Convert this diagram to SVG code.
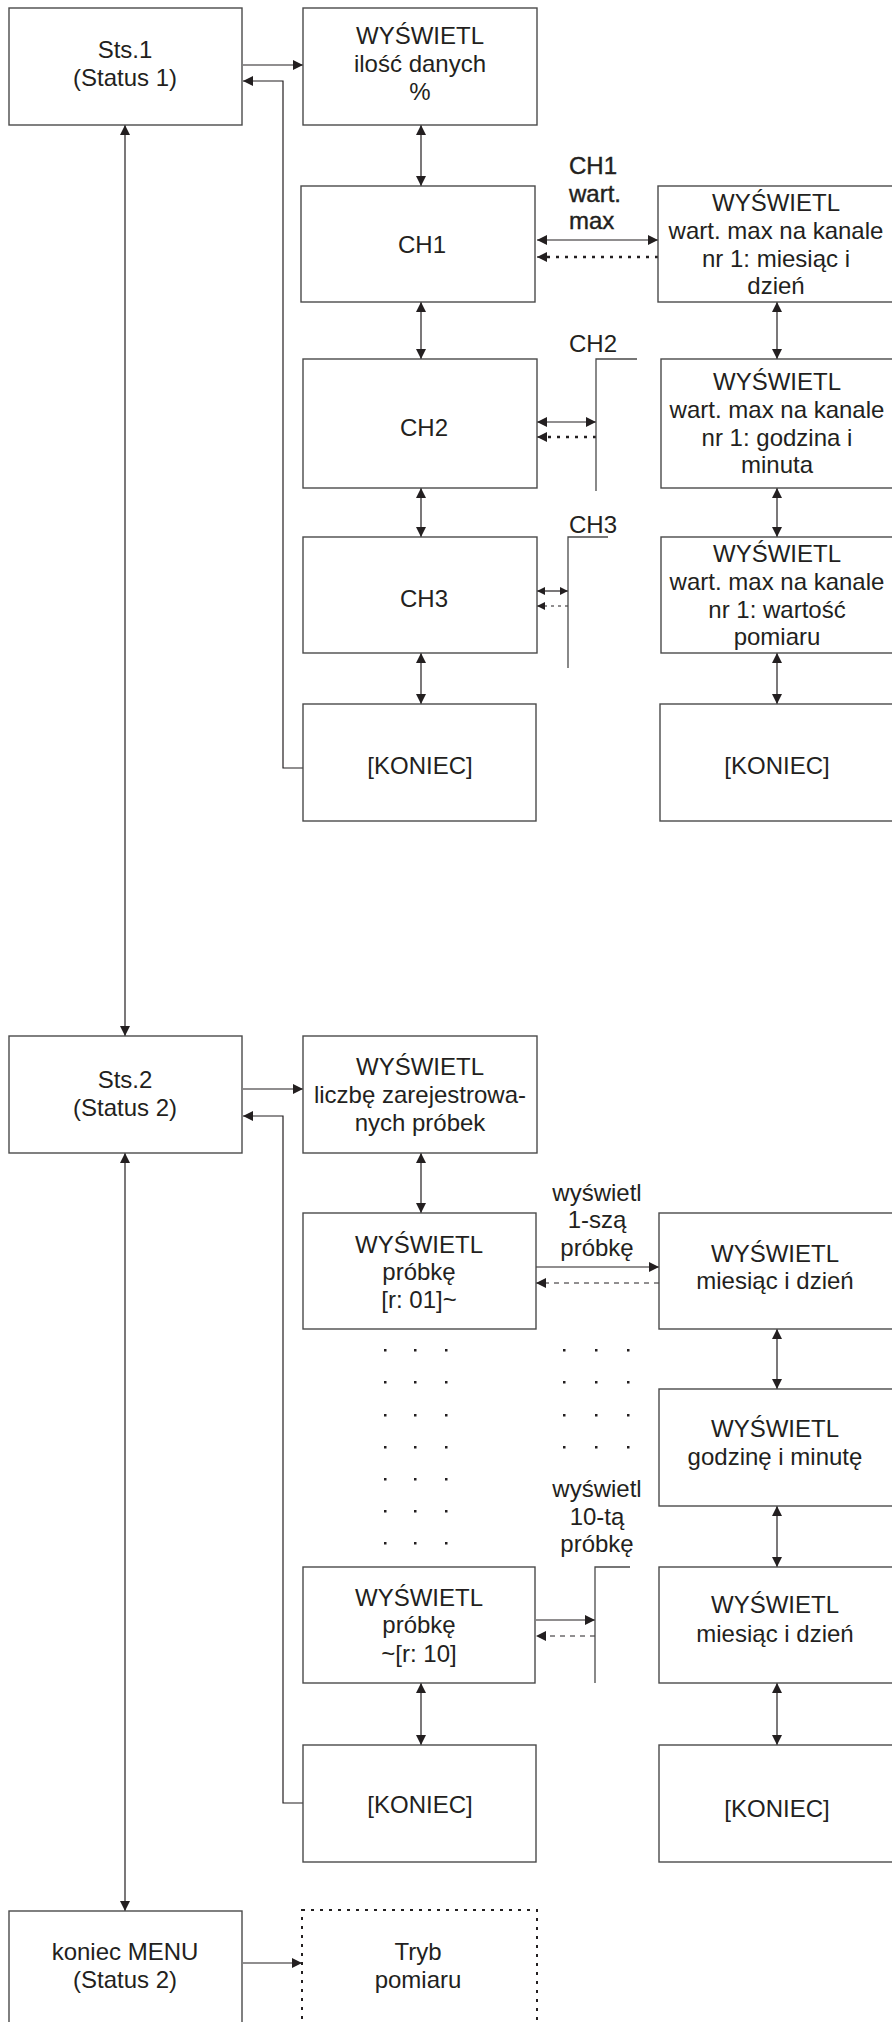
<svg xmlns="http://www.w3.org/2000/svg" width="892" height="2022" viewBox="0 0 892 2022">
<defs>
<marker id="ah" markerUnits="userSpaceOnUse" markerWidth="10" markerHeight="10" refX="10" refY="5" orient="auto-start-reverse"><path d="M0,0 L10,5 L0,10 z" fill="#231f20"/></marker>
<marker id="ahs" markerUnits="userSpaceOnUse" markerWidth="8" markerHeight="8" refX="8" refY="4" orient="auto-start-reverse"><path d="M0,0 L8,4 L0,8 z" fill="#231f20"/></marker>
</defs>
<style>
.box{fill:#fff;stroke:#4a4a4a;stroke-width:1.4}
.dotbox{fill:#fff;stroke:#231f20;stroke-width:2;stroke-dasharray:3 6}
.c{fill:none;stroke:#231f20;stroke-width:1.2}
.br{fill:none;stroke:#4a4a4a;stroke-width:1.3}
.dot{fill:none;stroke:#231f20;stroke-width:2.5;stroke-dasharray:3 6}
.dot2{fill:none;stroke:#231f20;stroke-width:1;stroke-dasharray:3 4}
.dash{fill:none;stroke:#231f20;stroke-width:1;stroke-dasharray:5 5}
text{font-family:"Liberation Sans",Arial,sans-serif;font-size:24px;fill:#231f20;text-anchor:middle}
.lab{text-anchor:start}
.bold{stroke:#231f20;stroke-width:0.4}
.d{fill:#231f20}
</style>

<g id="connectors">
<line class="c" x1="125" y1="125" x2="125" y2="1036" marker-start="url(#ah)" marker-end="url(#ah)"/>
<line class="c" x1="125" y1="1153" x2="125" y2="1911" marker-start="url(#ah)" marker-end="url(#ah)"/>
<line class="c" x1="243" y1="65" x2="303" y2="65" marker-end="url(#ah)"/>
<polyline class="c" points="303,768 283,768 283,81 243,81" marker-end="url(#ah)"/>
<line class="c" x1="243" y1="1089" x2="303" y2="1089" marker-end="url(#ah)"/>
<polyline class="c" points="303,1803 283,1803 283,1116 243,1116" marker-end="url(#ah)"/>
<line class="c" x1="243" y1="1963" x2="302" y2="1963" marker-end="url(#ah)"/>

<line class="c" x1="421" y1="125" x2="421" y2="186" marker-start="url(#ah)" marker-end="url(#ah)"/>
<line class="c" x1="421" y1="302" x2="421" y2="359" marker-start="url(#ah)" marker-end="url(#ah)"/>
<line class="c" x1="421" y1="488" x2="421" y2="537" marker-start="url(#ah)" marker-end="url(#ah)"/>
<line class="c" x1="421" y1="653" x2="421" y2="704" marker-start="url(#ah)" marker-end="url(#ah)"/>
<line class="c" x1="777" y1="302" x2="777" y2="359" marker-start="url(#ah)" marker-end="url(#ah)"/>
<line class="c" x1="777" y1="488" x2="777" y2="537" marker-start="url(#ah)" marker-end="url(#ah)"/>
<line class="c" x1="777" y1="653" x2="777" y2="704" marker-start="url(#ah)" marker-end="url(#ah)"/>

<line class="c" x1="421" y1="1153" x2="421" y2="1213" marker-start="url(#ah)" marker-end="url(#ah)"/>
<line class="c" x1="421" y1="1683" x2="421" y2="1745" marker-start="url(#ah)" marker-end="url(#ah)"/>
<line class="c" x1="777" y1="1329" x2="777" y2="1389" marker-start="url(#ah)" marker-end="url(#ah)"/>
<line class="c" x1="777" y1="1506" x2="777" y2="1567" marker-start="url(#ah)" marker-end="url(#ah)"/>
<line class="c" x1="777" y1="1683" x2="777" y2="1745" marker-start="url(#ah)" marker-end="url(#ah)"/>

<line class="c" x1="537" y1="240" x2="658" y2="240" marker-start="url(#ah)" marker-end="url(#ah)"/>
<line class="dot" x1="658" y1="257" x2="547" y2="257"/>
<line class="c" x1="547" y1="257" x2="537" y2="257" marker-end="url(#ah)"/>
<line class="c" x1="537" y1="422" x2="596" y2="422" marker-start="url(#ah)" marker-end="url(#ah)"/>
<line class="dot" x1="596" y1="437" x2="547" y2="437"/>
<line class="c" x1="547" y1="437" x2="537" y2="437" marker-end="url(#ah)"/>
<line class="c" x1="537" y1="591" x2="568" y2="591" marker-start="url(#ahs)" marker-end="url(#ahs)"/>
<line class="dot2" x1="568" y1="606" x2="537" y2="606" marker-end="url(#ahs)"/>

<line class="c" x1="536" y1="1267" x2="659" y2="1267" marker-end="url(#ah)"/>
<line class="dash" x1="659" y1="1283" x2="536" y2="1283" marker-end="url(#ah)"/>
<line class="c" x1="536" y1="1620" x2="595" y2="1620" marker-end="url(#ah)"/>
<line class="dash" x1="595" y1="1636" x2="536" y2="1636" marker-end="url(#ah)"/>

<path class="br" d="M637,359 H596 V491"/>
<path class="br" d="M608,537 H568 V668"/>
<path class="br" d="M630,1567 H595 V1683"/>
</g>

<g id="labels">
<text class="lab bold" x="569" y="174">CH1</text>
<text class="lab bold" x="569" y="202">wart.</text>
<text class="lab bold" x="569" y="229">max</text>
<text class="lab" x="569" y="352">CH2</text>
<text class="lab" x="569" y="533">CH3</text>
<text x="597" y="1201">wyświetl</text>
<text x="597" y="1228">1-szą</text>
<text x="597" y="1256">próbkę</text>
<text x="597" y="1497">wyświetl</text>
<text x="597" y="1525">10-tą</text>
<text x="597" y="1552">próbkę</text>
</g>

<g id="ellipsis">
<g class="d">
<rect x="384" y="1349" width="2.5" height="2.5"/><rect x="414" y="1349" width="2.5" height="2.5"/><rect x="445" y="1349" width="2.5" height="2.5"/>
<rect x="384" y="1381" width="2.5" height="2.5"/><rect x="414" y="1381" width="2.5" height="2.5"/><rect x="445" y="1381" width="2.5" height="2.5"/>
<rect x="384" y="1414" width="2.5" height="2.5"/><rect x="414" y="1414" width="2.5" height="2.5"/><rect x="445" y="1414" width="2.5" height="2.5"/>
<rect x="384" y="1446" width="2.5" height="2.5"/><rect x="414" y="1446" width="2.5" height="2.5"/><rect x="445" y="1446" width="2.5" height="2.5"/>
<rect x="384" y="1478" width="2.5" height="2.5"/><rect x="414" y="1478" width="2.5" height="2.5"/><rect x="445" y="1478" width="2.5" height="2.5"/>
<rect x="384" y="1510" width="2.5" height="2.5"/><rect x="414" y="1510" width="2.5" height="2.5"/><rect x="445" y="1510" width="2.5" height="2.5"/>
<rect x="384" y="1542" width="2.5" height="2.5"/><rect x="414" y="1542" width="2.5" height="2.5"/><rect x="445" y="1542" width="2.5" height="2.5"/>
<rect x="563" y="1349" width="2.5" height="2.5"/><rect x="595" y="1349" width="2.5" height="2.5"/><rect x="627" y="1349" width="2.5" height="2.5"/>
<rect x="563" y="1381" width="2.5" height="2.5"/><rect x="595" y="1381" width="2.5" height="2.5"/><rect x="627" y="1381" width="2.5" height="2.5"/>
<rect x="563" y="1414" width="2.5" height="2.5"/><rect x="595" y="1414" width="2.5" height="2.5"/><rect x="627" y="1414" width="2.5" height="2.5"/>
<rect x="563" y="1446" width="2.5" height="2.5"/><rect x="595" y="1446" width="2.5" height="2.5"/><rect x="627" y="1446" width="2.5" height="2.5"/>
</g>
</g>

<g id="sts1"><rect class="box" x="9" y="8" width="233" height="117"/><text x="125" y="58">Sts.1</text><text x="125" y="86">(Status 1)</text></g>
<g id="ilosc"><rect class="box" x="303" y="8" width="234" height="117"/><text x="420" y="44">WYŚWIETL</text><text x="420" y="72">ilość danych</text><text x="420" y="100">%</text></g>
<g id="ch1"><rect class="box" x="301" y="186" width="234" height="116"/><text x="422" y="253">CH1</text></g>
<g id="ch2"><rect class="box" x="303" y="359" width="234" height="129"/><text x="424" y="436">CH2</text></g>
<g id="ch3"><rect class="box" x="303" y="537" width="234" height="116"/><text x="424" y="607">CH3</text></g>
<g id="koniec1"><rect class="box" x="303" y="704" width="233" height="117"/><text x="420" y="774">[KONIEC]</text></g>
<g id="max1"><rect class="box" x="658" y="186" width="250" height="116"/><text x="776" y="211">WYŚWIETL</text><text x="776" y="239">wart. max na kanale</text><text x="776" y="267">nr 1: miesiąc i</text><text x="776" y="294">dzień</text></g>
<g id="max2"><rect class="box" x="661" y="359" width="250" height="129"/><text x="777" y="390">WYŚWIETL</text><text x="777" y="418">wart. max na kanale</text><text x="777" y="446">nr 1: godzina i</text><text x="777" y="473">minuta</text></g>
<g id="max3"><rect class="box" x="661" y="537" width="250" height="116"/><text x="777" y="562">WYŚWIETL</text><text x="777" y="590">wart. max na kanale</text><text x="777" y="618">nr 1: wartość</text><text x="777" y="645">pomiaru</text></g>
<g id="koniec2"><rect class="box" x="660" y="704" width="250" height="117"/><text x="777" y="774">[KONIEC]</text></g>

<g id="sts2"><rect class="box" x="9" y="1036" width="233" height="117"/><text x="125" y="1088">Sts.2</text><text x="125" y="1116">(Status 2)</text></g>
<g id="liczba"><rect class="box" x="303" y="1036" width="234" height="117"/><text x="420" y="1075">WYŚWIETL</text><text x="420" y="1103">liczbę zarejestrowa-</text><text x="420" y="1131">nych próbek</text></g>
<g id="probka1"><rect class="box" x="303" y="1213" width="233" height="116"/><text x="419" y="1253">WYŚWIETL</text><text x="419" y="1280">próbkę</text><text x="419" y="1308">[r: 01]~</text></g>
<g id="probka10"><rect class="box" x="303" y="1567" width="232" height="116"/><text x="419" y="1606">WYŚWIETL</text><text x="419" y="1633">próbkę</text><text x="419" y="1662">~[r: 10]</text></g>
<g id="koniec3"><rect class="box" x="303" y="1745" width="233" height="117"/><text x="420" y="1813">[KONIEC]</text></g>
<g id="md1"><rect class="box" x="659" y="1213" width="250" height="116"/><text x="775" y="1262">WYŚWIETL</text><text x="775" y="1289">miesiąc i dzień</text></g>
<g id="gm"><rect class="box" x="659" y="1389" width="250" height="117"/><text x="775" y="1437">WYŚWIETL</text><text x="775" y="1465">godzinę i minutę</text></g>
<g id="md2"><rect class="box" x="659" y="1567" width="250" height="116"/><text x="775" y="1613">WYŚWIETL</text><text x="775" y="1642">miesiąc i dzień</text></g>
<g id="koniec4"><rect class="box" x="659" y="1745" width="250" height="117"/><text x="777" y="1817">[KONIEC]</text></g>

<g id="koniecmenu"><rect class="box" x="9" y="1911" width="233" height="130"/><text x="125" y="1960">koniec MENU</text><text x="125" y="1988">(Status 2)</text></g>
<g id="tryb"><rect class="dotbox" x="302" y="1910" width="235" height="130"/><text x="418" y="1960">Tryb</text><text x="418" y="1988">pomiaru</text></g>
</svg>
